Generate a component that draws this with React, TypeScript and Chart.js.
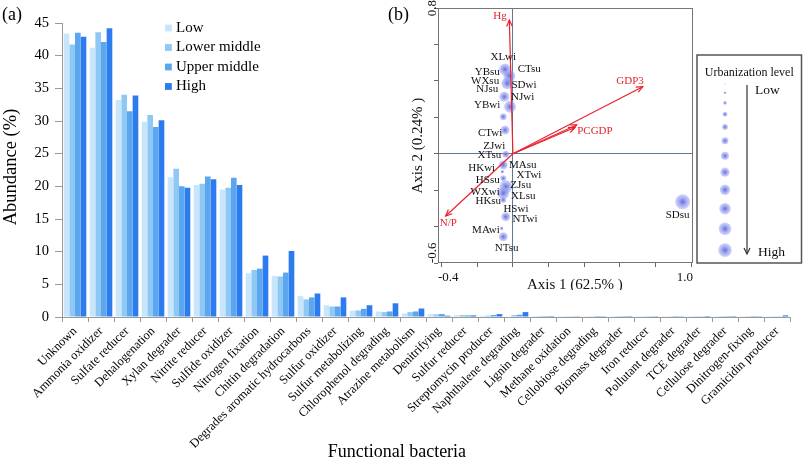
import React, { useEffect, useRef } from 'react';
import { Chart, registerables } from 'chart.js';

Chart.register(...registerables);

const SERIF = "'Liberation Serif', 'Times New Roman', serif";
const AXIS_GRAY = '#9a9a9a';
const RED = '#e8232e';

// ---------- panel (a) data ----------
const categories = [
  'Unknown', 'Ammonia oxidizer', 'Sulfate reducer', 'Dehalogenation', 'Xylan degrader',
  'Nitrite reducer', 'Sulfide oxidizer', 'Nitrogen fixation', 'Chitin degradation',
  'Degrades aromatic hydrocarbons', 'Sulfur oxidizer', 'Sulfur metabolizing',
  'Chlorophenol degrading', 'Atrazine metabolism', 'Denitrifying', 'Sulfur reducer',
  'Streptomycin producer', 'Naphthalene degrading', 'Lignin degrader', 'Methane oxidation',
  'Cellobiose degrading', 'Biomass degrader', 'Iron reducer', 'Pollutant degrader',
  'TCE degrader', 'Cellulose degrader', 'Dinitrogen-fixing', 'Gramicidin producer',
];
const seriesNames = ['Low', 'Lower middle', 'Upper middle', 'High'];
const lowValues = [43.4, 41.2, 33.2, 29.9, 21.4, 20.2, 19.5, 6.7, 6.3, 3.2, 1.8, 0.95, 0.85, 0.55, 0.45, 0.3, 0.2, 0.1, 0.15, 0.12, 0.03, 0.01, 0.02, 0.02, 0.01, 0.01, 0.02, 0.03];
const lowerMiddleValues = [41.7, 43.6, 34.0, 30.9, 22.7, 20.4, 19.8, 7.2, 6.2, 2.7, 1.6, 1.0, 0.75, 0.75, 0.4, 0.3, 0.22, 0.3, 0.15, 0.12, 0.03, 0.01, 0.12, 0.03, 0.02, 0.01, 0.02, 0.03];
const upperMiddleValues = [43.5, 42.1, 31.5, 29.1, 20.0, 21.5, 21.3, 7.4, 6.8, 3.0, 1.6, 1.25, 0.85, 0.85, 0.45, 0.25, 0.3, 0.35, 0.15, 0.12, 0.15, 0.01, 0.12, 0.15, 0.03, 0.01, 0.15, 0.05];
const highValues = [42.9, 44.2, 33.9, 30.1, 19.8, 21.1, 20.2, 9.4, 10.1, 3.6, 3.0, 1.8, 2.1, 1.3, 0.2, 0.25, 0.45, 0.75, 0.15, 0.12, 0.03, 0.01, 0.03, 0.12, 0.15, 0.01, 0.12, 0.25];
const seriesColors = ['#c9e5fb', '#8ec9f6', '#5ba6ee', '#2c7cef'];
const abundanceMin = 0;
const abundanceMax = 45;
const abundanceStep = 5;

// ---------- panel (b) data ----------
const pointX = [-0.044, -0.020, -0.031, -0.048, -0.016, -0.054, -0.044, -0.040, -0.054, -0.059, -0.054, -0.039, -0.054, -0.054, -0.040, -0.063, -0.054, 0.952];
const pointY = [0.463, 0.427, 0.387, 0.313, 0.258, 0.203, 0.130, -0.003, -0.062, -0.099, -0.135, -0.181, -0.217, -0.254, -0.346, -0.410, -0.456, -0.264];
const pointRadius = [6, 6, 6, 5, 6, 3.5, 4.5, 3.5, 4.5, 1.8, 3, 6.5, 6, 3, 4.5, 1.8, 4.5, 7.5];

const siteNames = ['XLwi', 'CTsu', 'YBsu', 'WXsu', 'SDwi', 'NJsu', 'NJwi', 'YBwi', 'CTwi', 'ZJwi', 'XTsu', 'MAsu', 'HKwi', 'XTwi', 'HSsu', 'ZJsu', 'WXwi', 'XLsu', 'HKsu', 'HSwi', 'NTwi', 'MAwi', 'NTsu', 'SDsu'];
const siteLabelX = [-0.054, 0.092, -0.144, -0.156, 0.062, -0.144, 0.055, -0.144, -0.128, -0.104, -0.132, 0.055, -0.175, 0.090, -0.141, 0.044, -0.156, 0.058, -0.138, 0.017, 0.068, -0.151, -0.035, 0.924];
const siteLabelY = [0.533, 0.463, 0.450, 0.399, 0.376, 0.354, 0.310, 0.266, 0.115, 0.044, -0.009, -0.060, -0.079, -0.119, -0.146, -0.174, -0.212, -0.234, -0.261, -0.302, -0.360, -0.419, -0.516, -0.337];

const vectorNames = ['Hg', 'GDP3', 'PCGDP', '', 'N/P'];
const vectorX = [-0.020, 0.728, 0.358, 0.348, -0.377];
const vectorY = [0.734, 0.368, 0.158, 0.144, -0.342];
const vectorLabelX = [-0.072, 0.657, 0.460, 0, -0.362];
const vectorLabelY = [0.758, 0.399, 0.125, 0, -0.379];

const axis1Min = -0.42;
const axis1Max = 1.01;
const axis2Min = -0.6;
const axis2Max = 0.8;
const axisStep = 0.2;
const axis1LabelValues = [-0.4, 1.0];
const axis2LabelValues = [-0.6, 0.8];
const axis1Title = 'Axis 1 (62.5% )';
const axis2Title = 'Axis 2 (0.24% )';
const urbanLevelCount = 12;

// ---------- helpers ----------
function circleFill(ctx: CanvasRenderingContext2D, px: number, py: number, r: number) {
  const g = ctx.createRadialGradient(px, py, 0, px, py, Math.max(r, 0.5));
  g.addColorStop(0, 'rgba(85,95,212,0.92)');
  g.addColorStop(0.5, 'rgba(130,140,235,0.72)');
  g.addColorStop(1, 'rgba(165,172,245,0.5)');
  return g;
}

const mainDecor = {
  id: 'mainDecor',
  afterDraw(chart: any) {
    const { ctx, chartArea: a } = chart;
    ctx.save();
    ctx.fillStyle = '#000';
    ctx.textBaseline = 'middle';
    ctx.textAlign = 'left';
    ctx.font = `18px ${SERIF}`;
    ctx.fillText('(a)', 2, 15);
    ctx.fillText('(b)', 388, 15);

    // legend
    ctx.font = `15px ${SERIF}`;
    chart.data.datasets.forEach((ds: any, i: number) => {
      const yy = a.top + 5 + i * 19.5;
      ctx.fillStyle = ds.backgroundColor;
      ctx.fillRect(a.left + 103, yy - 3.4, 6.8, 6.8);
      ctx.fillStyle = '#000';
      ctx.fillText(ds.label, a.left + 114, yy);
    });

    // axis titles
    ctx.textAlign = 'center';
    ctx.font = `18.5px ${SERIF}`;
    ctx.save();
    ctx.translate(11, (a.top + a.bottom) / 2 - 3);
    ctx.rotate(-Math.PI / 2);
    ctx.fillText('Abundance (%)', 0, 0);
    ctx.restore();
    ctx.font = `18px ${SERIF}`;
    ctx.fillText('Functional bacteria', a.left + 0.46 * (a.right - a.left), 452);
    ctx.restore();
  },
};

const insetDecor = {
  id: 'insetDecor',
  afterDraw(chart: any) {
    const { ctx, chartArea: a, scales } = chart;
    const xs = scales.x;
    const ys = scales.y;
    ctx.save();

    // frame
    ctx.strokeStyle = '#777';
    ctx.lineWidth = 1;
    ctx.strokeRect(Math.round(a.left) + 0.5, Math.round(a.top) + 0.5, Math.round(a.right - a.left) - 1, Math.round(a.bottom - a.top) - 1);

    // site labels
    ctx.fillStyle = '#111';
    ctx.font = `11px ${SERIF}`;
    ctx.textAlign = 'center';
    ctx.textBaseline = 'middle';
    siteNames.forEach((n, i) => {
      ctx.fillText(n, xs.getPixelForValue(siteLabelX[i]), ys.getPixelForValue(siteLabelY[i]));
    });

    // arrowheads + vector labels
    const ox = xs.getPixelForValue(0);
    const oy = ys.getPixelForValue(0);
    ctx.strokeStyle = RED;
    ctx.lineWidth = 1.2;
    vectorX.forEach((vx, i) => {
      const px = xs.getPixelForValue(vx);
      const py = ys.getPixelForValue(vectorY[i]);
      const ang = Math.atan2(py - oy, px - ox);
      const len = 7;
      ctx.beginPath();
      ctx.moveTo(px - len * Math.cos(ang - 0.42), py - len * Math.sin(ang - 0.42));
      ctx.lineTo(px, py);
      ctx.lineTo(px - len * Math.cos(ang + 0.42), py - len * Math.sin(ang + 0.42));
      ctx.stroke();
    });
    ctx.fillStyle = RED;
    vectorNames.forEach((n, i) => {
      if (!n) return;
      ctx.fillText(n, xs.getPixelForValue(vectorLabelX[i]), ys.getPixelForValue(vectorLabelY[i]));
    });

    // tick labels
    ctx.fillStyle = '#111';
    ctx.font = `13px ${SERIF}`;
    axis1LabelValues.forEach((v) => {
      const t = v.toFixed(1);
      const w = ctx.measureText(t).width;
      let cx = xs.getPixelForValue(v);
      cx = Math.min(Math.max(cx, a.left + w / 2), a.right - w / 2);
      ctx.fillText(t, cx, a.bottom + 15);
    });
    axis2LabelValues.forEach((v) => {
      const t = v.toFixed(1);
      const w = ctx.measureText(t).width;
      let cy = ys.getPixelForValue(v);
      cy = Math.min(cy, a.bottom - w / 2);
      ctx.save();
      ctx.translate(a.left - 5, cy);
      ctx.rotate(-Math.PI / 2);
      ctx.fillText(t, 0, 0);
      ctx.restore();
    });

    // axis titles
    ctx.font = `15px ${SERIF}`;
    ctx.fillText(axis1Title, a.left + 0.537 * (a.right - a.left), a.bottom + 22);
    ctx.save();
    ctx.translate(18, a.top + 0.54 * (a.bottom - a.top));
    ctx.rotate(-Math.PI / 2);
    ctx.fillText(axis2Title, 0, 0);
    ctx.restore();

    // urbanization legend
    const bl = a.right + 4;
    const br = chart.width - 1.5;
    const bt = 55;
    const bb = a.bottom;
    ctx.strokeStyle = '#555';
    ctx.lineWidth = 1.5;
    ctx.strokeRect(bl, bt, br - bl, bb - bt);
    ctx.fillStyle = '#111';
    ctx.font = `12px ${SERIF}`;
    ctx.fillText('Urbanization level', (bl + br) / 2, bt + 17.5);
    const cx = bl + 28;
    let cy = bt + 29;
    for (let i = 0; i < urbanLevelCount; i++) {
      const r = 0.8 + 0.55 * i;
      ctx.fillStyle = circleFill(ctx, cx, cy, r);
      ctx.beginPath();
      ctx.arc(cx, cy, r, 0, Math.PI * 2);
      ctx.fill();
      cy += 8.85 + 1.25 * i;
    }
    const ax = bl + 50;
    ctx.strokeStyle = '#333';
    ctx.lineWidth = 1.2;
    ctx.beginPath();
    ctx.moveTo(ax, bt + 30);
    ctx.lineTo(ax, bb - 9);
    ctx.stroke();
    ctx.beginPath();
    ctx.moveTo(ax - 3, bb - 15);
    ctx.lineTo(ax, bb - 9);
    ctx.lineTo(ax + 3, bb - 15);
    ctx.stroke();
    ctx.fillStyle = '#111';
    ctx.textAlign = 'left';
    ctx.font = `13.5px ${SERIF}`;
    ctx.fillText('Low', ax + 8, bt + 35);
    ctx.fillText('High', ax + 11, bb - 11);
    ctx.restore();
  },
};

export default function App() {
  const mainRef = useRef<HTMLCanvasElement>(null);
  const insetRef = useRef<HTMLCanvasElement>(null);

  useEffect(() => {
    document.body.style.margin = '0';
    const seriesValues = [lowValues, lowerMiddleValues, upperMiddleValues, highValues];

    const main = new Chart(mainRef.current as HTMLCanvasElement, {
      type: 'bar',
      data: {
        labels: categories,
        datasets: seriesNames.map((name, i) => ({
          label: name,
          data: seriesValues[i],
          backgroundColor: seriesColors[i],
          borderWidth: 0,
          categoryPercentage: 0.87,
          barPercentage: 1,
        })),
      },
      options: {
        responsive: false,
        animation: false,
        devicePixelRatio: 1,
        layout: { padding: { top: 23, right: 13, left: 0, bottom: 0 } },
        plugins: { legend: { display: false }, tooltip: { enabled: false } },
        scales: {
          x: {
            grid: { display: true, drawOnChartArea: false, drawTicks: true, tickLength: 5, color: AXIS_GRAY, offset: true },
            border: { display: true, color: AXIS_GRAY },
            ticks: {
              autoSkip: false, minRotation: 45, maxRotation: 45, color: '#000', padding: 2,
              font: { family: SERIF, size: 12.5 },
            },
            afterFit: (s: any) => { s.height = 144; },
          },
          y: {
            min: abundanceMin,
            max: abundanceMax,
            grid: { drawOnChartArea: false, drawTicks: true, tickLength: 7, color: AXIS_GRAY },
            border: { display: true, color: AXIS_GRAY },
            ticks: { stepSize: abundanceStep, color: '#000', padding: 6, font: { family: SERIF, size: 14.5 } },
            afterFit: (s: any) => { s.width = 62; },
          },
        },
      } as any,
      plugins: [mainDecor],
    });

    const vectorDatasets = vectorX.map((vx, i) => ({
      label: vectorNames[i] || 'vector',
      data: [{ x: 0, y: 0 }, { x: vx, y: vectorY[i] }],
      showLine: true,
      borderColor: RED,
      borderWidth: 1.2,
      pointRadius: 0,
      pointHoverRadius: 0,
      fill: false,
    }));

    const inset = new Chart(insetRef.current as HTMLCanvasElement, {
      type: 'scatter',
      data: {
        datasets: [
          ...vectorDatasets,
          {
            label: 'sites',
            data: pointX.map((x, i) => ({ x, y: pointY[i] })),
            pointRadius: pointRadius,
            pointHoverRadius: pointRadius,
            borderWidth: 0,
            backgroundColor: (c: any) => {
              const ch = c.chart;
              if (c.type !== 'data' || !ch.scales || !ch.scales.x || !ch.scales.y) return 'rgba(120,130,230,0.6)';
              const i = c.dataIndex;
              const px = ch.scales.x.getPixelForValue(pointX[i]);
              const py = ch.scales.y.getPixelForValue(pointY[i]);
              if (!isFinite(px) || !isFinite(py)) return 'rgba(120,130,230,0.6)';
              return circleFill(ch.ctx, px, py, pointRadius[i]);
            },
          },
        ],
      },
      options: {
        responsive: false,
        animation: false,
        devicePixelRatio: 1,
        layout: { padding: { top: 8, right: 110, left: 0, bottom: 0 } },
        plugins: { legend: { display: false }, tooltip: { enabled: false } },
        scales: {
          x: {
            type: 'linear',
            min: axis1Min,
            max: axis1Max,
            border: { display: false },
            grid: {
              drawOnChartArea: true,
              drawTicks: true,
              tickLength: 4,
              tickColor: '#666',
              color: (c: any) => (c.tick && Math.abs(c.tick.value) < 1e-9 ? 'rgba(80,105,135,0.9)' : 'rgba(0,0,0,0)'),
            },
            ticks: { stepSize: axisStep, includeBounds: false, display: false },
            afterFit: (s: any) => { s.height = 27; },
          },
          y: {
            type: 'linear',
            min: axis2Min,
            max: axis2Max,
            border: { display: false },
            grid: {
              drawOnChartArea: true,
              drawTicks: true,
              tickLength: 4,
              tickColor: '#666',
              color: (c: any) => (c.tick && Math.abs(c.tick.value) < 1e-9 ? 'rgba(80,105,135,0.9)' : 'rgba(0,0,0,0)'),
            },
            ticks: { stepSize: axisStep, includeBounds: false, display: false },
            afterFit: (s: any) => { s.width = 38; },
          },
        },
      } as any,
      plugins: [insetDecor],
    });

    return () => {
      main.destroy();
      inset.destroy();
    };
  }, []);

  return (
    <div style={{ position: 'relative', width: 803, height: 461, background: '#fff' }}>
      <canvas ref={mainRef} width={803} height={461} style={{ position: 'absolute', left: 0, top: 0 }} />
      <canvas ref={insetRef} width={403} height={290} style={{ position: 'absolute', left: 400, top: 0 }} />
    </div>
  );
}
